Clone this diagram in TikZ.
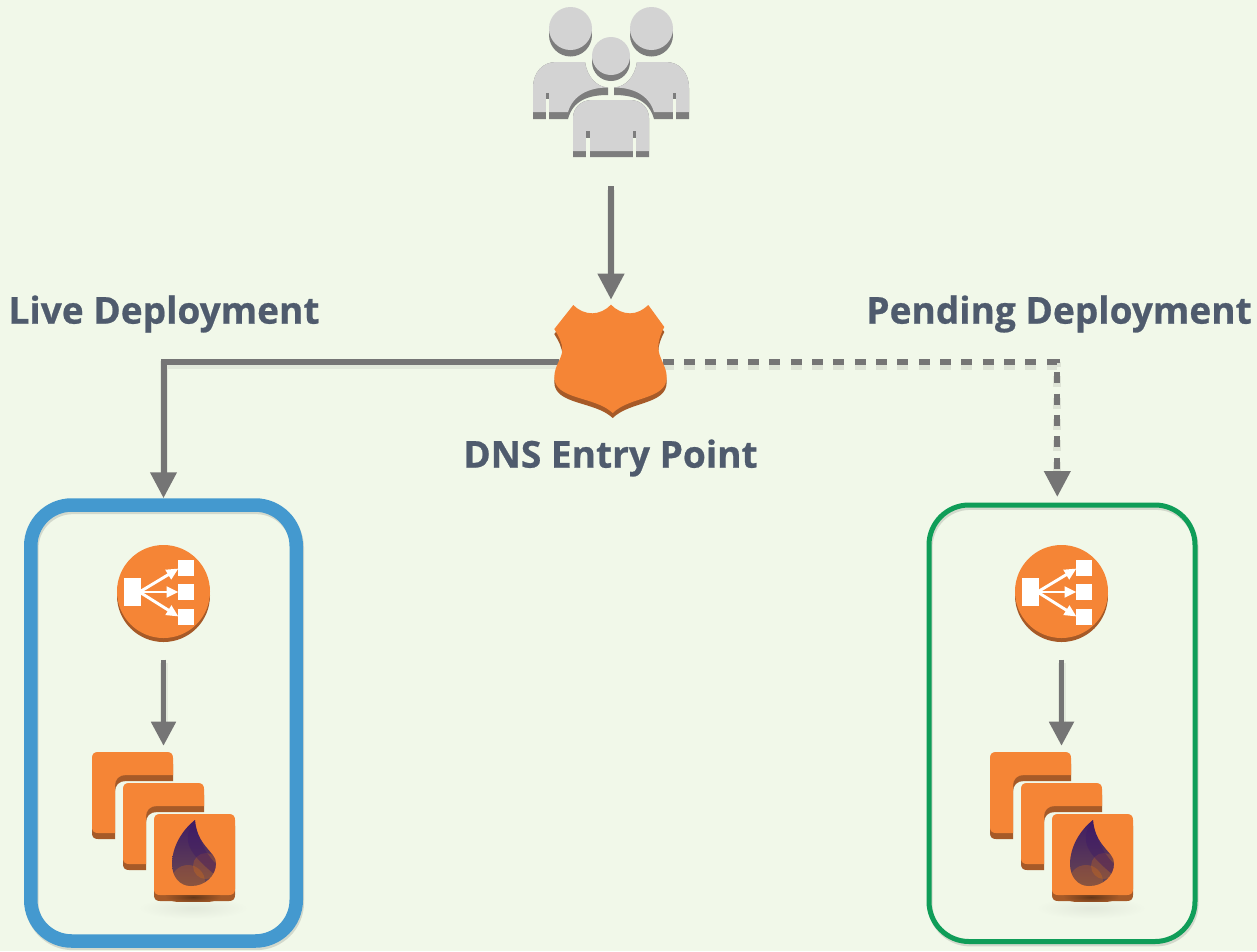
\documentclass[tikz,border=0pt]{standalone}
\usepackage{fontspec}
\setmainfont[BoldFeatures={FakeBold=0.6}]{Open Sans}
\usepackage{tikz}
\usetikzlibrary{arrows.meta}
\definecolor{pagebg}{HTML}{F1F8E9}
\definecolor{awsorange}{HTML}{F58536}
\definecolor{awsdark}{HTML}{A65A28}
\definecolor{linegrey}{HTML}{757575}
\definecolor{userlight}{HTML}{D3D3D3}
\definecolor{userdark}{HTML}{7D7D7D}
\definecolor{labelcol}{HTML}{4F5B6D}
\definecolor{livecol}{HTML}{4499CF}
\definecolor{pendingcol}{HTML}{0F9D58}
\definecolor{droptop}{HTML}{3D1A66}
\definecolor{dropbottom}{HTML}{6B4A50}
\def\px{0.75pt}
\tikzset{softline/.style={preaction={draw=black, opacity=.06, line width=6pt, -, shorten >=#1, transform canvas={yshift=-2.5pt}}}}
\tikzset{softdash/.style={preaction={draw=black, opacity=.08, line width=6pt, -, shorten >=#1, dash pattern=on 8.2pt off 7.8pt, transform canvas={yshift=-3pt}}}}
\tikzset{softbox/.style={preaction={draw=black, opacity=.12, transform canvas={shift={(0.8pt,-1.8pt)}}}}}
\tikzstyle{arrow} = [line width=4.5pt,linegrey,-{Triangle[length=19.5pt,width=19pt]}]
\tikzstyle{arrowsmall} = [line width=3.75pt,linegrey,-{Triangle[length=18pt,width=18pt]}]
\tikzstyle{whitearrow} = [line width=2.2pt,white,-{Triangle[length=9pt,width=8pt]}]
\tikzstyle{label} = [font=\fontsize{27.8}{30}\selectfont\bfseries, text=labelcol, inner sep=0pt]
\tikzstyle{deploybox} = [rectangle, draw, softbox]
\tikzstyle{iconbox} = [rectangle, inner sep=0pt]
\def\cardpath{(0,6) .. controls (0,2) and (2,0) .. (6,0) -- (75,0) .. controls (79,0) and (81,2) .. (81,6) -- (81,23) -- (34,23) .. controls (27,23) and (23,27) .. (23,34) -- (23,81) -- (6,81) .. controls (2,81) and (0,79) .. (0,75) -- cycle}
\def\squarepath{(0,6) .. controls (0,2) and (2,0) .. (6,0) -- (75,0) .. controls (79,0) and (81,2) .. (81,6) -- (81,75) .. controls (81,79) and (79,81) .. (75,81) -- (6,81) .. controls (2,81) and (0,79) .. (0,75) -- cycle}
\def\droppath{(103,68) .. controls (90,78) and (80,95) .. (80,112) .. controls (80,125) and (88,134) .. (99,134) .. controls (113,134) and (124,124) .. (124,111) .. controls (124,100) and (105,94) .. (103,68) -- cycle}
\def\shieldpath{(611,304.7) .. controls (606,310) and (599,313.3) .. (592.3,313.3) .. controls (585,313.3) and (578,310) .. (573.3,305) -- (554.3,329) .. controls (558,335) and (562.3,342) .. (562.3,350) .. controls (562.3,358) and (554.3,366) .. (554.3,377) .. controls (554.3,400) and (595,396) .. (612.7,413) .. controls (630,396) and (666.7,400) .. (666.7,377) .. controls (666.7,366) and (658.3,358) .. (658.3,347) .. controls (658.3,340) and (661,333) .. (664.3,327) -- (648.3,305) .. controls (643,310) and (637,313.3) .. (630,313.3) .. controls (623,313.3) and (616,310) .. (611,304.7) -- cycle}
\tikzset{
  pics/lbicon/.style={code={
    \fill [awsdark] (0,2) circle [radius=46.5*\px];
    \fill [awsorange] (0,-2) circle [radius=46.5*\px];
    \fill [white] (-39.5,-16) rectangle (-22.5,12.5);
    \fill [white] (14.5,-33.5) rectangle (30.5,-17.5);
    \fill [white] (14.5,-9.5) rectangle (30.5,6.5);
    \fill [white] (14.5,15) rectangle (30.5,31.5);
    \draw [whitearrow] (-24,-1.5) -- (15,-25);
    \draw [whitearrow] (-24,-1.5) -- (15,-1.5);
    \draw [whitearrow] (-24,-1.5) -- (15,23);
  }},
  pics/instanceicon/.style={code={
    \begin{scope}[shift={(-71.5,-74.5)}]
      \shade [inner color=black!6!pagebg, outer color=pagebg] (101,156) ellipse [x radius=55*\px, y radius=11*\px];
      \fill [awsdark, yshift=-6*\px] \cardpath;
      \fill [awsorange] \cardpath;
      \begin{scope}[shift={(31,31)}]
        \fill [awsdark, yshift=-6*\px] \cardpath;
        \fill [awsorange] \cardpath;
      \end{scope}
      \begin{scope}[shift={(62,62)}]
        \fill [awsdark, yshift=-6*\px] \squarepath;
        \fill [awsorange] \squarepath;
      \end{scope}
      \begin{scope}
        \clip (70,143) rectangle (135,149);
        \shade [inner color=black!40!awsdark, outer color=awsdark] (101,145) ellipse [x radius=28*\px, y radius=6*\px];
      \end{scope}
      \begin{scope}
        \clip \droppath;
        \shade [top color=droptop, bottom color=dropbottom] (75,65) rectangle (130,136);
        \fill [orange, opacity=.22] (96,130) circle [radius=17*\px];
        \fill [orange, opacity=.22] (114,114) circle [radius=13*\px];
        \fill [droptop, opacity=.45] (104,66) .. controls (88,88) and (96,100) .. (122,122) -- (126,114) .. controls (112,100) and (106,88) .. (104,66) -- cycle;
      \end{scope}
    \end{scope}
  }}
}
\begin{document}
\begin{tikzpicture}[x=0.75pt,y=-0.75pt]
    \useasboundingbox (0,0) rectangle (1257,951);
    \fill [pagebg] (0,0) rectangle (1257,951);

    % users
    \node (users) [iconbox, minimum width=158*\px, minimum height=150*\px] at (611,83) {};
    \fill [userdark] (570.5,35) circle [radius=21.5*\px];
    \fill [userlight] (570.5,28.5) circle [radius=21.5*\px];
    \fill [userdark] (651.5,35) circle [radius=21.5*\px];
    \fill [userlight] (651.5,28.5) circle [radius=21.5*\px];
    \foreach \flip in {1,-1} {
      \begin{scope}[shift={(611,0)}, xscale=\flip]
        \fill [userdark] (-78,119) -- (-78,88) .. controls (-78,72) and (-68,62) .. (-55,62) -- (-26,62) .. controls (-24,76) and (-15,87) .. (-3,87.5) -- (-3,95) .. controls (-22,95) and (-38,100) .. (-43,119) -- cycle;
        \fill [userlight] (-78,112) -- (-78,88) .. controls (-78,72) and (-68,62) .. (-55,62) -- (-26,62) .. controls (-24,76) and (-15,87) .. (-3,87.5) .. controls (-22,87.5) and (-38,95) .. (-43,112) -- cycle;
        \fill [pagebg] (-65,99) rectangle (-61.7,120);
        \fill [userdark] (-65,93) rectangle (-61.7,99);
      \end{scope}
    }
    \fill [userdark] (611,62) circle [radius=19*\px];
    \fill [userlight] (611,56) circle [radius=19*\px];
    \fill [userdark] (573,157) -- (573,118) .. controls (573,108) and (581,100) .. (592,100) -- (630,100) .. controls (641,100) and (649,108) .. (649,118) -- (649,157) -- cycle;
    \fill [userlight] (573,151) -- (573,118) .. controls (573,108) and (581,100) .. (592,100) -- (630,100) .. controls (641,100) and (649,108) .. (649,118) -- (649,151) -- cycle;
    \fill [pagebg] (586,138) rectangle (590,158);
    \fill [pagebg] (632.5,138) rectangle (636,158);
    \fill [userdark] (586,131) rectangle (590,138);
    \fill [userdark] (632.5,131) rectangle (636,138);

    % dns
    \node (shield) [iconbox, minimum width=103*\px, minimum height=113*\px] at (611,361.5) {};
    \node (dns-label) [label] at (610.5,458) {DNS Entry Point};

    % live side
    \node (live-label) [label] at (164,314) {Live Deployment};
    \node (live-box) [deploybox, minimum width=265.5*\px, minimum height=436*\px, line width=13.5*\px, draw=livecol, rounded corners=41*\px] at (163.5,723) {};
    \node (live-lb) [iconbox, minimum width=93*\px, minimum height=97*\px] at (163.5,593.5) {};
    \pic at (live-lb) {lbicon};
    \node (live-instances) [iconbox, minimum width=143*\px, minimum height=149*\px] at (163.5,826.5) {};
    \pic at (live-instances) {instanceicon};

    % pending side
    \node (pending-label) [label] at (1059,314) {Pending Deployment};
    \node (pending-box) [deploybox, minimum width=266*\px, minimum height=436.5*\px, line width=5*\px, draw=pendingcol, rounded corners=40*\px] at (1062,723.25) {};
    \node (pending-lb) [iconbox, minimum width=93*\px, minimum height=97*\px] at (1061.5,593.5) {};
    \pic at (pending-lb) {lbicon};
    \node (pending-instances) [iconbox, minimum width=143*\px, minimum height=149*\px] at (1061.5,826.5) {};
    \pic at (pending-instances) {instanceicon};
    \coordinate (pending-in) at (1057.3,497);

    \draw [arrow, softline=23pt, shorten <=21pt, shorten >=3.75pt] (users) -- (shield);
    \draw [arrow, softline=19pt] (shield.west) -| (live-box.north);
    \draw [arrow, softdash=19pt, dash pattern=on 8.2pt off 7.8pt] (shield.east) -| (pending-in);
    \draw [arrowsmall, softline=22pt, shorten <=13pt, shorten >=4.5pt] (live-lb) -- (live-instances);
    \draw [arrowsmall, softline=22pt, shorten <=13pt, shorten >=4.5pt] (pending-lb) -- (pending-instances);

    \fill [awsdark, yshift=-5*\px] \shieldpath;
    \fill [awsorange] \shieldpath;
\end{tikzpicture}
\end{document}
